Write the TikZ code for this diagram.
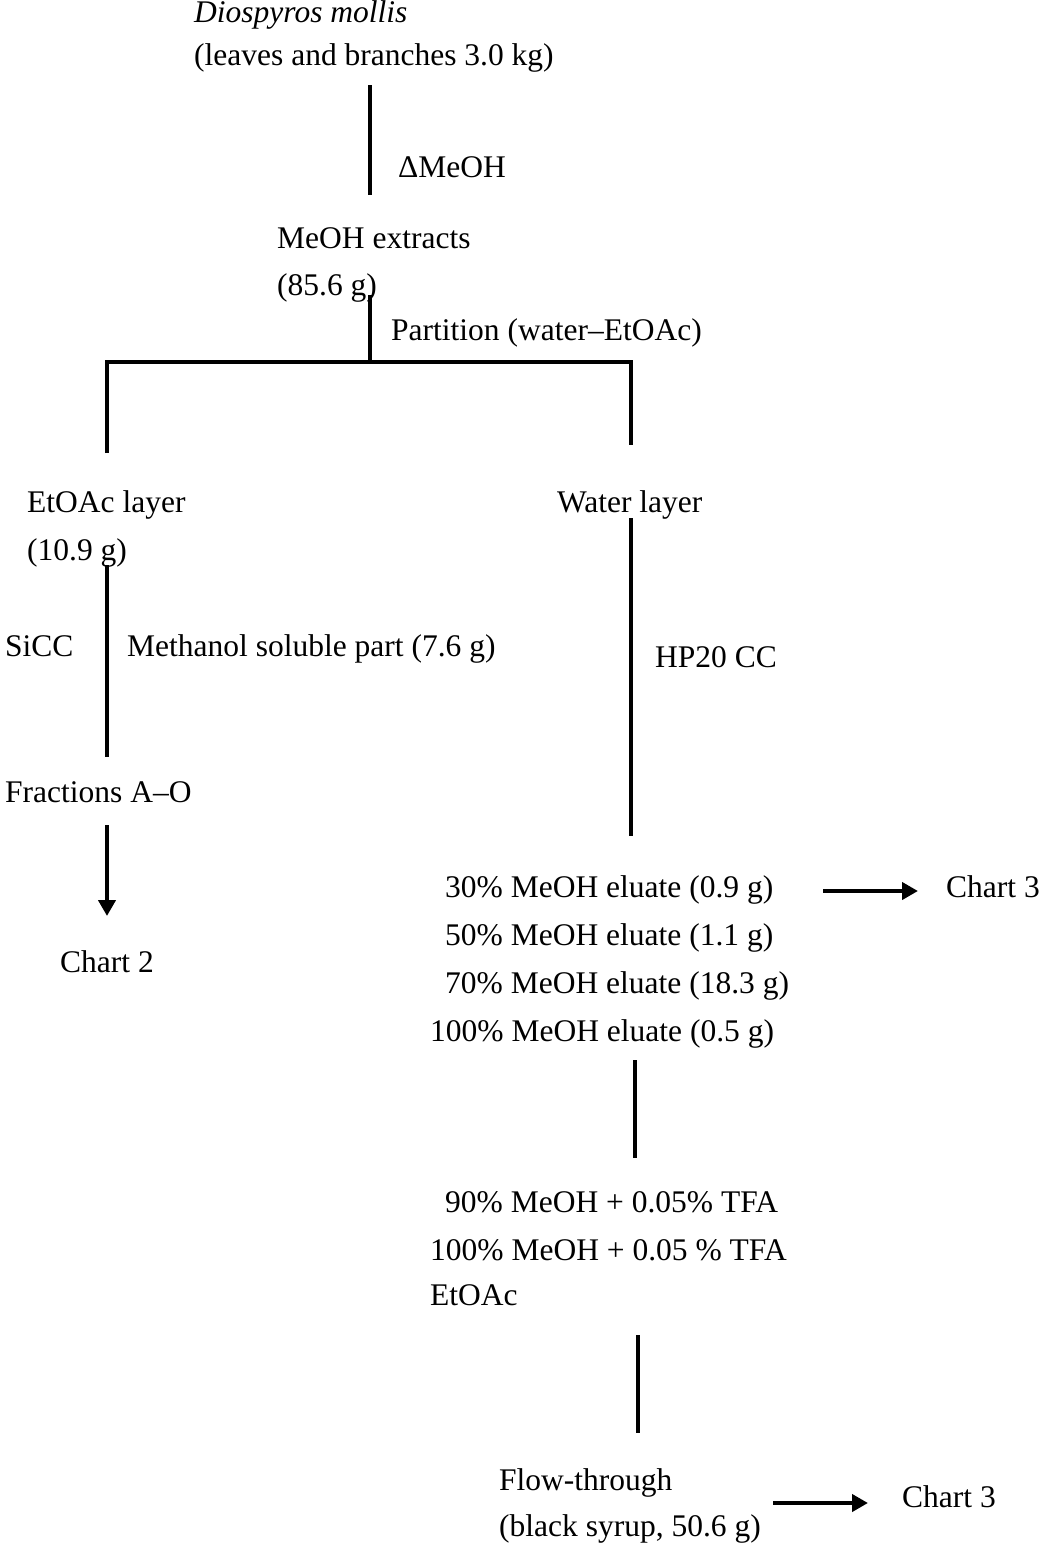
\documentclass[tikz,border=0pt]{standalone}
\usepackage{fontspec}
\setmainfont{Liberation Serif}
\usetikzlibrary{arrows.meta}
\begin{document}
\begin{tikzpicture}[x=1pt,y=-1pt,
  txt/.style={anchor=base west,inner sep=0pt,font=\fontsize{31.5}{36}\selectfont},
  ln/.style={line width=4pt},
  arr/.style={line width=4.5pt,-{Triangle[length=16pt,width=17pt]}}]
\useasboundingbox (0,0) rectangle (1040,1543);
% texts
\node[txt] (dm) at (194,22) {\itshape Diospyros mollis};
\node[txt] (lb) at (194,65) {(leaves and branches 3.0 kg)};
\node[txt] (dme) at (398,177) {ΔMeOH};
\node[txt] (me) at (277,248) {MeOH extracts};
\node[txt] (me2) at (277,295) {(85.6 g)};
\node[txt] (part) at (391,340) {Partition (water--EtOAc)};
\node[txt] (et) at (27,512) {EtOAc layer};
\node[txt] (et2) at (27,560) {(10.9 g)};
\node[txt] (wl) at (557,512) {Water layer};
\node[txt] (sicc) at (5,656) {SiCC};
\node[txt] (msp) at (127,656) {Methanol soluble part (7.6 g)};
\node[txt] (hp) at (655,667) {HP20 CC};
\node[txt] (fr) at (5,802) {Fractions A--O};
\node[txt] (c2) at (60,972) {Chart 2};
\node[txt] (e30) at (445,897) {30\% MeOH eluate (0.9 g)};
\node[txt] (e50) at (445,945) {50\% MeOH eluate (1.1 g)};
\node[txt] (e70) at (445,993) {70\% MeOH eluate (18.3 g)};
\node[txt] (e100) at (430,1041) {100\% MeOH eluate (0.5 g)};
\node[txt] (c3a) at (946,897) {Chart 3};
\node[txt] (t90) at (445,1212) {90\% MeOH + 0.05\% TFA};
\node[txt] (t100) at (430,1260) {100\% MeOH + 0.05 \% TFA};
\node[txt] (ea) at (430,1305) {EtOAc};
\node[txt] (ft) at (499,1490) {Flow-through};
\node[txt] (bs) at (499,1536) {(black syrup, 50.6 g)};
\node[txt] (c3b) at (902,1507) {Chart 3};
% coordinates
\coordinate (a1) at (370,85);
\coordinate (a2) at (370,195);
\coordinate (b1) at (370,295);
\coordinate (b2) at (370,362);
\coordinate (hl) at (107,362);
\coordinate (hr) at (631,362);
\coordinate (l2) at (107,453);
\coordinate (r2) at (631,445);
\coordinate (s1) at (107,565);
\coordinate (s2) at (107,757);
\coordinate (w1) at (631,518);
\coordinate (w2) at (631,836);
\coordinate (f1) at (107,825);
\coordinate (f2) at (107,916);
\coordinate (x1) at (823,891);
\coordinate (x2) at (918,891);
\coordinate (v1) at (635,1060);
\coordinate (v2) at (635,1158);
\coordinate (u1) at (638,1335);
\coordinate (u2) at (638,1433);
\coordinate (y1) at (773,1503);
\coordinate (y2) at (868,1503);
% lines
\draw[ln] (a1) -- (a2);
\draw[ln] (b1) -- (b2);
\draw[ln] (l2) -- (hl) -- (hr) -- (r2);
\draw[ln] (s1) -- (s2);
\draw[ln] (w1) -- (w2);
\draw[arr] (f1) -- (f2);
\draw[arr] (x1) -- (x2);
\draw[ln] (v1) -- (v2);
\draw[ln] (u1) -- (u2);
\draw[arr] (y1) -- (y2);
\end{tikzpicture}
\end{document}
